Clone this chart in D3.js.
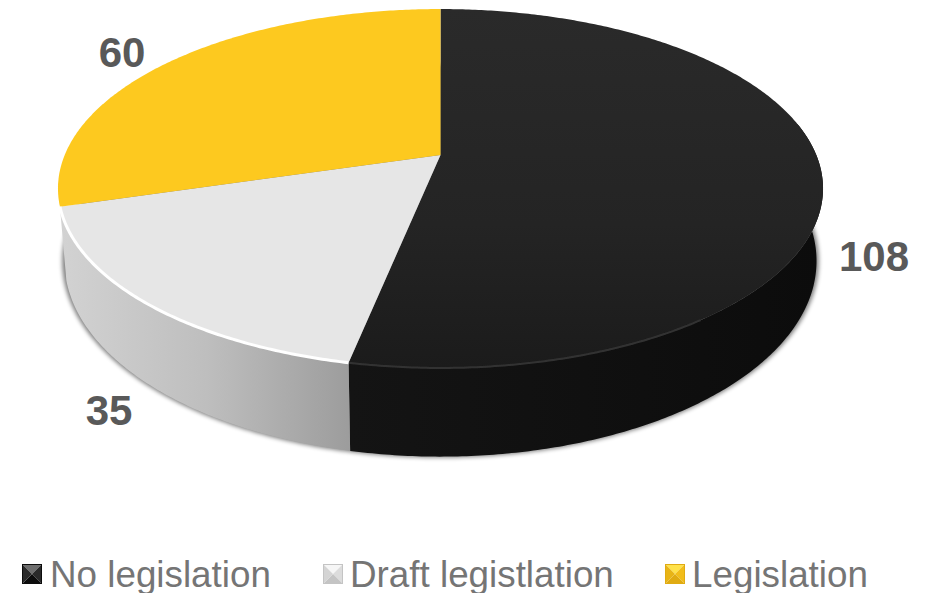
<!DOCTYPE html>
<html>
<head>
<meta charset="utf-8">
<style>html,body{margin:0;padding:0;background:#fff}svg{display:block}text{font-family:"Liberation Sans",Arial,sans-serif}</style>
<script src="https://cdn.jsdelivr.net/npm/d3@7/dist/d3.min.js"></script>
</head>
<body>
<svg id="chart" width="933" height="593"></svg>
<script>
// Legislation status counts
const categories = ["No legislation", "Draft legistlation", "Legislation"];
const values = [108, 35, 60];

// Slice appearance, in category order
const topFill = ["url(#topDark)", "#e6e6e6", "#fdc91f"];
const sideFill = ["url(#sideDark)", "url(#sideLight)", null];
const rimStroke = ["#333333", "#ffffff", null];
const markerShades = [
  ["#6e6e6e", "#2a2a2a", "#0c0c0c", "#2a2a2a"],
  ["#f6f6f6", "#dcdcdc", "#c4c4c4", "#d4d4d4"],
  ["#ffe24a", "#f2bd1a", "#e0ab12", "#e8b416"]
];

// Layout of the tilted disc
const cx = 440.5, cy = 155;
const scaleX = 375.8, scaleY = 173.2, persp = 0.1867;
const floor = { sx: 0.983, sy: 1.09, dy: 69.5 };
const labelAt = [[874, 256], [109, 410], [122, 52]];
const legendMarkerX = [22, 323, 665], legendTextX = [50, 350, 692], legendY = 574;

const svg = d3.select("#chart");
const defs = svg.append("defs");

const grad = (id, x1, x2, y1, y2, stops) => {
  const g = defs.append("linearGradient").attr("id", id).attr("gradientUnits", "userSpaceOnUse")
    .attr("x1", x1).attr("x2", x2).attr("y1", y1).attr("y2", y2);
  stops.forEach(([o, c]) => g.append("stop").attr("offset", o).attr("stop-color", c));
};
grad("topDark", 0, 0, 9, 368, [[0, "#2a2a2a"], [0.6, "#242424"], [1, "#1b1b1b"]]);
grad("sideDark", 350, 820, 0, 0, [[0, "#141414"], [0.5, "#101010"], [1, "#0c0c0c"]]);
grad("sideLight", 62, 352, 0, 0, [[0, "#d2d2d2"], [0.5, "#bebebe"], [1, "#9c9c9c"]]);

defs.append("filter").attr("id", "soft").attr("x", "-10%").attr("y", "-10%").attr("width", "120%").attr("height", "120%")
  .append("feGaussianBlur").attr("stdDeviation", 2.2);
defs.append("filter").attr("id", "edge").attr("x", "-5%").attr("y", "-5%").attr("width", "110%").attr("height", "110%")
  .append("feGaussianBlur").attr("stdDeviation", 0.7);

// Perspective projection of a point on the unit disc, angle clockwise from the back
function project(a, sx = 1, sy = 1, dy = 0) {
  const x = Math.sin(a), y = -Math.cos(a), w = 1 - persp * y;
  return [cx + sx * scaleX * x / w, cy + dy + sy * scaleY * y / w];
}
const rimTop = a => project(a);
const rimBottom = a => project(a, floor.sx, floor.sy, floor.dy);
const samples = (a0, a1) => {
  const n = Math.max(2, Math.ceil(Math.abs(a1 - a0) / 0.01));
  return d3.range(n + 1).map(i => a0 + (a1 - a0) * i / n);
};
const line = d3.line();

const pie = d3.pie().sort(null).value(d => d);
const arcs = pie(values);
const TAU = 2 * Math.PI;

// Soft shadow hugging the lower rim of the drum
svg.append("path")
  .attr("d", line(samples(0, TAU).map(a => project(a, floor.sx * 1.006, floor.sy * 1.004, floor.dy))) + "Z")
  .attr("fill", "#000").attr("opacity", 0.5).attr("filter", "url(#soft)");

// Side walls; the dark wall starts at the rightmost point of the rim
arcs.forEach((d, i) => {
  if (!sideFill[i]) return;
  const a0 = i === 0 ? TAU * 0.22 : d.startAngle;
  const ring = samples(a0, d.endAngle);
  const pts = ring.map(rimTop).concat(ring.slice().reverse().map(rimBottom));
  svg.append("path").attr("d", line(pts) + "Z").attr("fill", sideFill[i]);
});

// Top faces
arcs.forEach((d, i) => {
  const pts = [[cx, cy]].concat(samples(d.startAngle, d.endAngle).map(rimTop));
  svg.append("path").attr("d", line(pts) + "Z").attr("fill", topFill[i]);
});

// Bevel highlight along the front rim
arcs.forEach((d, i) => {
  if (!rimStroke[i]) return;
  const a0 = i === 0 ? Math.PI * 0.8 : d.startAngle;
  svg.append("path").attr("d", line(samples(a0, d.endAngle).map(rimTop)))
    .attr("fill", "none").attr("stroke", rimStroke[i]).attr("stroke-width", i === 1 ? 3 : 2)
    .attr("filter", "url(#edge)");
});

// Value labels
svg.selectAll("text.value").data(values).join("text")
  .attr("class", "value")
  .attr("x", (d, i) => labelAt[i][0]).attr("y", (d, i) => labelAt[i][1])
  .attr("text-anchor", "middle").attr("dominant-baseline", "central")
  .attr("font-size", 42).attr("font-weight", "bold").attr("fill", "#595959")
  .text(d => d);

// Legend with bevelled square markers
const ms = 20;
categories.forEach((name, i) => {
  const x = legendMarkerX[i], y = legendY - ms / 2, c = [x + ms / 2, y + ms / 2];
  const corners = [[x, y], [x + ms, y], [x + ms, y + ms], [x, y + ms]];
  corners.forEach((p, k) => {
    svg.append("path").attr("d", line([p, corners[(k + 1) % 4], c]) + "Z")
      .attr("fill", markerShades[i][k]);
  });
  svg.append("rect").attr("x", x + 0.5).attr("y", y + 0.5).attr("width", ms - 1).attr("height", ms - 1)
    .attr("fill", "none").attr("stroke", markerShades[i][2]).attr("stroke-width", 1);
  svg.append("text").attr("x", legendTextX[i]).attr("y", legendY)
    .attr("dominant-baseline", "central").attr("font-size", 36.8).attr("fill", "#757575")
    .text(name);
});
</script>
</body>
</html>
